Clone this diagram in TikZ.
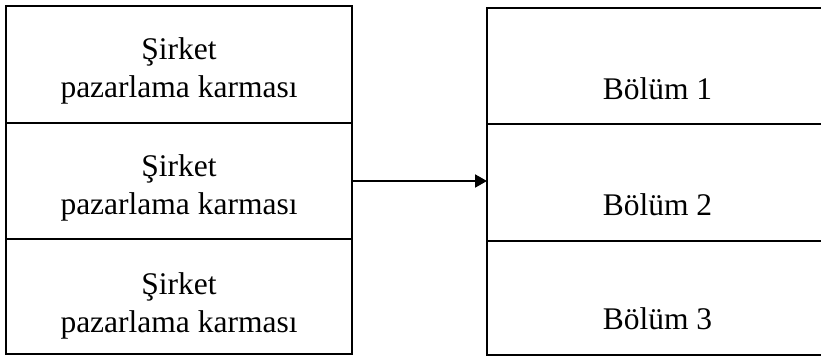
\documentclass[tikz,border=0pt]{standalone}
\usepackage{fontspec}
\setmainfont{Liberation Serif}
\usetikzlibrary{arrows.meta}
\begin{document}
\begin{tikzpicture}[x=1pt,y=-1pt,
  sect/.style={draw, line width=2pt, rectangle, outer sep=0pt, inner sep=0pt, anchor=north west},
  lbl/.style={anchor=base, inner sep=0pt, font=\fontsize{31.5}{37}\selectfont}]
\useasboundingbox (0,0) rectangle (821,356);
\clip (0,0) rectangle (821,356);
% left column: three stacked sections
\node[sect, minimum width=346pt, minimum height=117pt] (l1) at (6,6) {};
\node[sect, minimum width=346pt, minimum height=116pt] (l2) at (l1.south west) {};
\node[sect, minimum width=346pt, minimum height=115pt] (l3) at (l2.south west) {};
% right column: three stacked sections running past the right edge
\node[sect, minimum width=345pt, minimum height=116pt] (r1) at (487,8) {};
\node[sect, minimum width=345pt, minimum height=116.5pt] (r2) at (r1.south west) {};
\node[sect, minimum width=345pt, minimum height=114.5pt] (r3) at (r2.south west) {};
% labels
\node[lbl] (t1a) at (179,59) {Şirket};
\node[lbl] (t1b) at (179,97) {pazarlama karması};
\node[lbl] (t2a) at (179,176) {Şirket};
\node[lbl] (t2b) at (179,214) {pazarlama karması};
\node[lbl] (t3a) at (179,294) {Şirket};
\node[lbl] (t3b) at (179,332) {pazarlama karması};
\node[lbl] (b1) at (657.5,99) {Bölüm 1};
\node[lbl] (b2) at (657.5,215) {Bölüm 2};
\node[lbl] (b3) at (657.5,329) {Bölüm 3};
% connector
\draw[line width=2pt, -{Triangle[length=12pt,width=13pt]}] (l2.east) -- (l2.east -| r2.west);
\end{tikzpicture}
\end{document}
